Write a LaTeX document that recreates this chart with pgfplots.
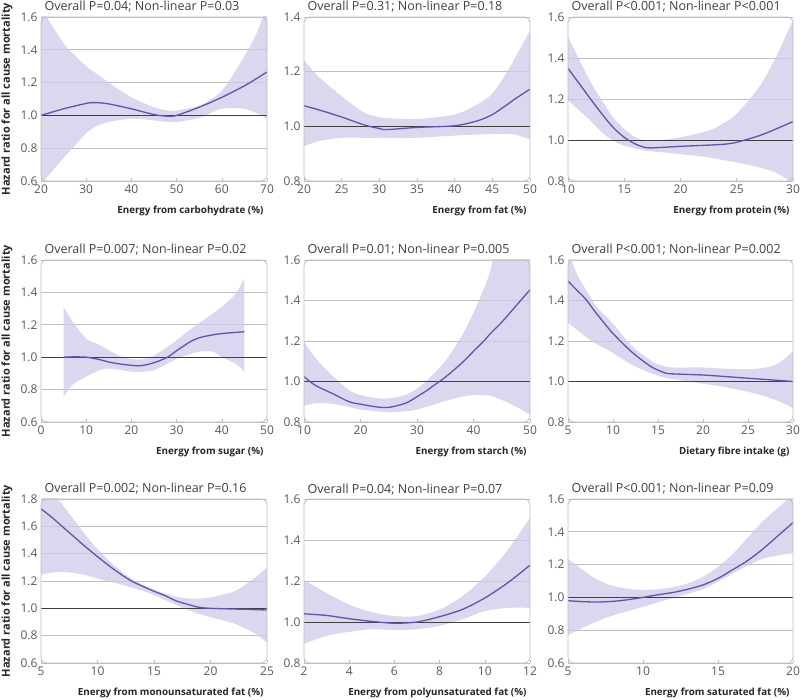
\documentclass[border=0pt]{standalone}
\usepackage{fontspec}
\setmainfont{Open Sans}
\usepackage{pgfplots}
\usepackage{pgfplotstable}
\pgfplotsset{compat=1.18}
\usepgfplotslibrary{fillbetween}

\definecolor{bandc}{RGB}{206,201,234}
\definecolor{curve}{RGB}{96,84,176}
\definecolor{frame}{RGB}{190,190,190}

% x = exposure, hr = hazard ratio, lo/up = 95% CI
\pgfplotstableread{
x  hr    lo    up
20 1.000 0.580 1.660
25 1.040 0.740 1.440
30 1.073 0.890 1.300
32 1.078 0.930 1.260
35 1.070 0.960 1.200
40 1.040 0.980 1.110
45 1.005 0.970 1.050
48 0.995 0.960 1.030
50 1.000 0.960 1.030
55 1.050 0.985 1.060
60 1.110 1.040 1.150
65 1.180 1.040 1.360
68 1.230 1.010 1.520
70 1.265 0.980 1.680
}\carb
\pgfplotstableread{
x  hr    lo    up
20 1.075 0.927 1.242
22 1.060 0.946 1.180
25 1.034 0.958 1.110
28 1.005 0.958 1.050
30 0.992 0.958 1.034
31 0.988 0.957 1.030
35 0.996 0.958 1.027
40 1.002 0.966 1.043
43 1.020 0.970 1.080
45 1.043 0.972 1.120
47 1.080 0.972 1.200
48 1.100 0.970 1.250
50 1.136 0.952 1.350
}\fat
\pgfplotstableread{
x    hr    lo    up
10   1.349 1.193 1.505
11   1.275 1.144 1.390
12   1.200 1.095 1.284
13   1.128 1.038 1.194
14   1.062 0.997 1.110
15   1.013 0.972 1.054
16   0.980 0.959 1.013
17   0.962 0.948 0.997
18   0.963 0.942 0.998
20   0.969 0.931 1.013
22.5 0.975 0.915 1.046
24   0.980 0.900 1.087
25   0.989 0.890 1.128
27   1.021 0.866 1.259
28.5 1.054 0.840 1.407
30   1.090 0.790 1.587
}\protein
\pgfplotstableread{
x  hr    lo    up
5  1.000 0.755 1.310
7  1.002 0.830 1.220
10 1.000 0.880 1.115
13 0.985 0.920 1.075
15 0.970 0.930 1.043
18 0.956 0.920 1.000
20 0.950 0.910 0.990
22 0.947 0.910 0.985
25 0.966 0.920 1.010
28 1.000 0.960 1.064
30 1.040 0.990 1.105
33 1.095 1.020 1.170
35 1.120 1.035 1.210
38 1.138 1.035 1.270
40 1.146 1.000 1.310
43 1.153 0.960 1.390
45 1.157 0.910 1.487
}\sugar
\pgfplotstableread{
x  hr    lo    up
10 1.024 0.880 1.197
12 0.981 0.893 1.117
15 0.941 0.890 1.029
18 0.900 0.874 0.957
20 0.888 0.861 0.933
23 0.874 0.853 0.917
25 0.872 0.848 0.917
28 0.893 0.853 0.933
30 0.925 0.861 0.965
32 0.960 0.878 1.010
33 0.981 0.885 1.040
35 1.021 0.904 1.100
38 1.093 0.925 1.229
40 1.149 0.933 1.340
42 1.205 0.932 1.469
43 1.237 0.930 1.550
45 1.293 0.909 1.750
48 1.389 0.869 1.900
50 1.453 0.837 2.000
}\starch
\pgfplotstableread{
x    hr    lo    up
5    1.496 1.290 1.650
6    1.450 1.255 1.530
7    1.405 1.220 1.453
8    1.345 1.190 1.380
9    1.290 1.165 1.330
10   1.237 1.141 1.285
12   1.149 1.085 1.180
14   1.080 1.045 1.109
15   1.056 1.029 1.085
16   1.040 1.016 1.072
17   1.037 1.010 1.069
20   1.032 0.989 1.069
22   1.026 0.976 1.064
25   1.016 0.949 1.061
27   1.010 0.925 1.069
28.5 1.005 0.901 1.093
30   1.000 0.869 1.149
}\fibre
\pgfplotstableread{
x  hr    lo    up
5  1.728 1.246 1.980
6  1.663 1.263 1.870
7  1.590 1.265 1.747
8  1.518 1.258 1.639
9  1.446 1.241 1.530
10 1.378 1.217 1.434
11 1.313 1.198 1.349
12 1.253 1.176 1.277
13 1.200 1.152 1.217
14 1.161 1.128 1.173
15 1.125 1.096 1.137
16 1.092 1.060 1.108
17 1.053 1.024 1.084
18 1.029 0.988 1.072
19 1.007 0.959 1.072
20 1.000 0.935 1.080
22 0.995 0.892 1.120
23 0.993 0.855 1.169
24 0.990 0.814 1.229
25 0.988 0.747 1.300
}\mono
\pgfplotstableread{
x  hr    lo    up
2  1.040 0.893 1.205
3  1.032 0.933 1.141
4  1.016 0.952 1.085
5  1.003 0.965 1.048
6  0.994 0.960 1.029
7  1.000 0.965 1.029
8  1.026 0.981 1.061
9  1.061 1.013 1.125
10 1.117 1.053 1.221
11 1.190 1.069 1.349
12 1.277 1.069 1.509
}\poly
\pgfplotstableread{
x  hr    lo    up
5  0.980 0.770 1.236
6  0.974 0.816 1.166
7  0.972 0.856 1.106
8  0.976 0.890 1.070
9  0.986 0.916 1.052
10 1.000 0.942 1.046
11 1.016 0.970 1.050
12 1.030 0.996 1.062
13 1.050 1.022 1.086
14 1.076 1.050 1.126
15 1.116 1.096 1.186
16 1.170 1.146 1.266
17 1.226 1.196 1.366
18 1.296 1.236 1.466
19 1.376 1.256 1.546
20 1.456 1.270 1.626
}\sat

\pgfplotsset{
  panel/.style={
    scale only axis, width=226pt, height=164pt, anchor=south west,
    axis line style={draw=none},
    ymajorgrids, grid style={frame, line width=0.6pt},
    xtick pos=left, tick align=inside, major tick length=3pt,
    ytick style={draw=none}, xtick style={frame, line width=0.6pt},
    ticklabel style={font=\fontsize{12}{14}\selectfont, text=black!65},
    /pgf/number format/assume math mode=true,
    yticklabel style={/pgf/number format/.cd, fixed, fixed zerofill, precision=1},
    xticklabel style={/pgf/number format/.cd, fixed, precision=0},
    xlabel style={at={(axis description cs:1,0)}, anchor=base east, yshift=-33pt,
      font=\fontsize{9.8}{12}\selectfont\bfseries, text=black!85},
    title style={at={(axis description cs:0,1)}, anchor=base west,
      font=\fontsize{12.5}{14}\selectfont, text=black!75},
    ylabel style={at={(axis description cs:-0.15,0.5)}, anchor=center,
      font=\fontsize{11}{13}\selectfont\bfseries, text=black!85},
    after end axis/.code={\draw[frame, line width=0.8pt, rounded corners=6pt]
      (rel axis cs:0,0) rectangle (rel axis cs:1,1);},
  }
}

\newcommand{\curves}[3]{%
  \addplot[black!75, line width=0.8pt] coordinates {(#2,1) (#3,1)};
  \addplot[name path=up, draw=none, smooth] table[x=x, y=up] {#1};
  \addplot[name path=lo, draw=none, smooth] table[x=x, y=lo] {#1};
  \addplot[bandc, fill opacity=0.75] fill between[of=up and lo];
  \addplot[curve, line width=1.3pt, smooth] table[x=x, y=hr] {#1};
}

\begin{document}
\begin{tikzpicture}

% row 1
\begin{axis}[panel, at={(41pt,519pt)},
  xmin=20, xmax=70, ymin=0.6, ymax=1.6, xtick={20,30,...,70}, ytick={0.6,0.8,...,1.61},
  title={Overall P=0.04; Non-linear P=0.03},
  xlabel={Energy from carbohydrate (\%)},
  ylabel={Hazard ratio for all cause mortality}]
\curves{\carb}{20}{70}
\end{axis}

\begin{axis}[panel, at={(304pt,519pt)},
  xmin=20, xmax=50, ymin=0.8, ymax=1.4, xtick={20,25,...,50}, ytick={0.8,1.0,1.2,1.4},
  title={Overall P=0.31; Non-linear P=0.18},
  xlabel={Energy from fat (\%)}]
\curves{\fat}{20}{50}
\end{axis}

\begin{axis}[panel, at={(568pt,519pt)}, width=225pt,
  xmin=10, xmax=30, ymin=0.8, ymax=1.6, xtick={10,15,...,30}, ytick={0.8,1.0,1.2,1.4,1.6},
  title={Overall P<0.001; Non-linear P<0.001},
  xlabel={Energy from protein (\%)}]
\curves{\protein}{10}{30}
\end{axis}

% row 2
\begin{axis}[panel, at={(41pt,278pt)}, height=162pt,
  xmin=0, xmax=50, ymin=0.6, ymax=1.6, xtick={0,10,...,50}, ytick={0.6,0.8,...,1.61},
  title={Overall P=0.007; Non-linear P=0.02},
  xlabel={Energy from sugar (\%)},
  ylabel={Hazard ratio for all cause mortality}]
\curves{\sugar}{0}{50}
\end{axis}

\begin{axis}[panel, at={(304pt,278pt)}, height=162pt,
  xmin=10, xmax=50, ymin=0.8, ymax=1.6, xtick={10,20,...,50}, ytick={0.8,1.0,1.2,1.4,1.6},
  title={Overall P=0.01; Non-linear P=0.005},
  xlabel={Energy from starch (\%)}]
\curves{\starch}{10}{50}
\end{axis}

\begin{axis}[panel, at={(568pt,278pt)}, width=225pt, height=162pt,
  xmin=5, xmax=30, ymin=0.8, ymax=1.6, xtick={5,10,...,30}, ytick={0.8,1.0,1.2,1.4,1.6},
  title={Overall P<0.001; Non-linear P=0.002},
  xlabel={Dietary fibre intake (g)}]
\curves{\fibre}{5}{30}
\end{axis}

% row 3
\begin{axis}[panel, at={(41pt,37pt)},
  xmin=5, xmax=25, ymin=0.6, ymax=1.8, xtick={5,10,...,25}, ytick={0.6,0.8,...,1.81},
  title={Overall P=0.002; Non-linear P=0.16},
  xlabel={Energy from monounsaturated fat (\%)},
  ylabel={Hazard ratio for all cause mortality}]
\curves{\mono}{5}{25}
\end{axis}

\begin{axis}[panel, at={(304pt,37pt)},
  xmin=2, xmax=12, ymin=0.8, ymax=1.6, xtick={2,4,...,12}, ytick={0.8,1.0,1.2,1.4,1.6},
  title={Overall P=0.04; Non-linear P=0.07},
  xlabel={Energy from polyunsaturated fat (\%)}]
\curves{\poly}{2}{12}
\end{axis}

\begin{axis}[panel, at={(568pt,37pt)}, width=225pt,
  xmin=5, xmax=20, ymin=0.6, ymax=1.6, xtick={5,10,...,20}, ytick={0.6,0.8,...,1.61},
  title={Overall P<0.001; Non-linear P=0.09},
  xlabel={Energy from saturated fat (\%)}]
\curves{\sat}{5}{20}
\end{axis}

\pgfresetboundingbox
\path[use as bounding box] (0,0) rectangle (800pt,700pt);
\end{tikzpicture}
\end{document}
